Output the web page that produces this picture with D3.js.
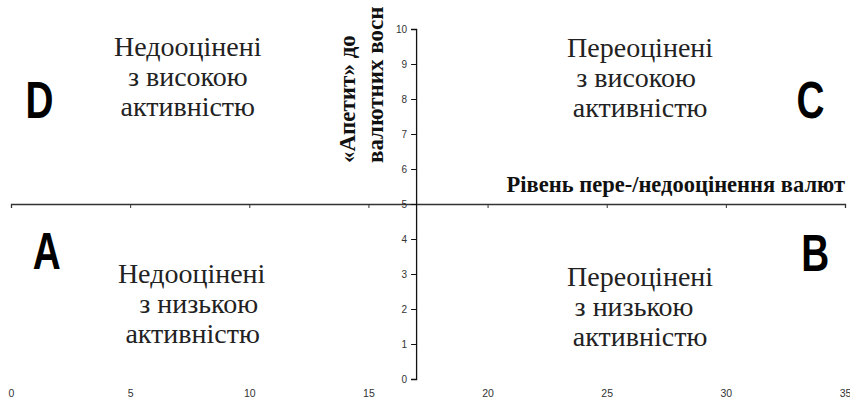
<!DOCTYPE html>
<html><head><meta charset="utf-8">
<script src="https://cdn.jsdelivr.net/npm/d3@7"></script>
<style>
html,body{margin:0;padding:0;background:#fff;overflow:hidden}
svg{display:block}
</style></head>
<body>
<script>
// ---- data ----
const xDomain = [0, 35];
const yDomain = [0, 10];
const xTicks = [0, 5, 10, 15, 20, 25, 30, 35];
const yTicks = [0, 1, 2, 3, 4, 5, 6, 7, 8, 9, 10];
const xCross = 5;   // horizontal axis crosses at y = 5
const yCross = 17;  // vertical axis crosses at x = 17
const xTitle = "Рівень пере-/недооцінення валют";
const yTitleLines = ["«Апетит» до", "валютних восн"];
const quadrantNames = ["D", "C", "A", "B"];
const quadrantLines = [
  ["Недооцінені", "з високою", "активністю"],
  ["Переоцінені", "з високою", "активністю"],
  ["Недооцінені", "з низькою", "активністю"],
  ["Переоцінені", "з низькою", "активністю"]
];

// ---- layout ----
const W = 850, H = 401;
const svg = d3.select("body").append("svg").attr("width", W).attr("height", H);
const x = d3.scaleLinear().domain(xDomain).range([11, 845]);
const y = d3.scaleLinear().domain(yDomain).range([379, 29]);

// horizontal axis
const gx = svg.append("g").attr("transform", `translate(0,${y(xCross)})`)
  .call(d3.axisBottom(x).tickValues(xTicks).tickSize(4).tickSizeOuter(4).tickPadding(182));
gx.select(".domain").attr("stroke", "#333").attr("stroke-width", 1.3);
gx.selectAll(".tick line").attr("stroke", "#333");
gx.selectAll("text").attr("font-family", "Arial, 'Liberation Sans', sans-serif")
  .attr("font-size", 10.5).attr("fill", "#333");

// vertical axis
const gy = svg.append("g").attr("transform", `translate(${x(yCross)},0)`)
  .call(d3.axisLeft(y).tickValues(yTicks).tickSize(5).tickSizeOuter(5).tickPadding(4));
gy.select(".domain").attr("stroke", "#111").attr("stroke-width", 1.3);
gy.selectAll(".tick line").attr("stroke", "#111");
gy.selectAll("text").attr("font-family", "Arial, 'Liberation Sans', sans-serif")
  .attr("font-size", 10).attr("fill", "#333");

// axis titles
svg.append("text").attr("x", 845).attr("y", 192).attr("text-anchor", "end")
  .attr("font-family", "'Liberation Serif', 'Times New Roman', serif")
  .attr("font-weight", "bold").attr("font-size", 22.5).attr("fill", "#111")
  .text(xTitle);

const yt = svg.append("g").attr("transform", `translate(355,163) rotate(-90)`);
yTitleLines.forEach((t, i) => {
  yt.append("text").attr("x", 0).attr("y", i * 28)
    .attr("font-family", "'Liberation Serif', 'Times New Roman', serif")
    .attr("font-weight", "bold").attr("font-size", 23).attr("fill", "#111")
    .text(t);
});

// quadrant letters
const letterPos = [[1.2, 7.45], [33.55, 7.45], [1.5, 3.15], [33.75, 3.1]];
quadrantNames.forEach((n, i) => {
  svg.append("text")
    .attr("transform", `translate(${x(letterPos[i][0])},${y(letterPos[i][1])}) scale(0.76,1)`)
    .attr("text-anchor", "middle")
    .attr("font-family", "'Liberation Sans', Arial, sans-serif")
    .attr("font-weight", "bold").attr("font-size", 51).attr("fill", "#000")
    .text(n);
});

// quadrant descriptions
const textPos = [[7.42, 9.23], [26.4, 9.2], [7.58, 2.74], [26.4, 2.66]];
const lineDx = [[0, 0, 0], [0, -4, 0], [0, 7, 1], [0, -6, 0]];
quadrantLines.forEach((lines, i) => {
  lines.forEach((t, j) => {
    svg.append("text").attr("x", x(textPos[i][0]) + lineDx[i][j])
      .attr("y", y(textPos[i][1]) + j * 30)
      .attr("text-anchor", "middle")
      .attr("font-family", "'Liberation Serif', 'Times New Roman', serif")
      .attr("font-size", 28).attr("fill", "#222")
      .text(t);
  });
});
</script>
</body></html>
